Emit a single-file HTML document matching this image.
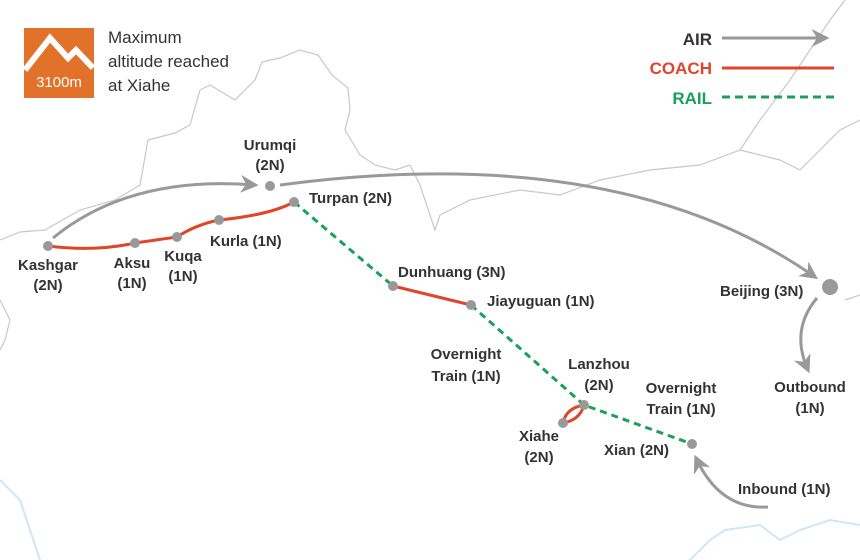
<!DOCTYPE html>
<html><head><meta charset="utf-8"><style>
html,body{margin:0;padding:0;background:#fff}
svg{display:block}
text{font-family:"Liberation Sans",sans-serif;font-weight:bold;font-size:15px;fill:#333}
</style></head><body>
<svg width="860" height="560" viewBox="0 0 860 560" xmlns="http://www.w3.org/2000/svg">
<defs>
<marker id="ah" viewBox="0 0 10 10" refX="8" refY="5" markerWidth="6" markerHeight="6" orient="auto"><path d="M0,0 L10,5 L0,10 L3,5z" fill="#999"/></marker>
</defs>
<g fill="none" stroke="#c8c8c8" stroke-width="1.2">
<path d="M0,240 L20,232 L45,230 L80,210 L115,200 L140,185 L148,140 L175,133 L190,125 L200,90 L210,85 L235,100 L255,80 L262,62 L280,58 L300,50 L318,55 L332,75 L348,88 L350,110 L345,130 L360,155 L375,165 L395,170 L410,165 L420,185 L435,230 L440,215 L470,200 L520,190 L560,195 L600,180 L650,170 L700,165 L740,150 L760,120 L790,80 L810,50 L830,20 L845,0"/>
<path d="M740,150 L780,160 L800,170 L820,150 L840,130 L860,120"/>
<path d="M0,300 L10,320 L5,340 L0,350"/>
<path d="M845,300 L860,295"/>
</g>
<g fill="none" stroke="#cfe6f5" stroke-width="2">
<path d="M0,480 L20,500 L30,530 L40,560"/>
<path d="M690,560 L710,540 L725,530 L760,525 L780,540 L800,530 L830,520 L860,525"/>
</g>
<rect x="24" y="28" width="70" height="70" fill="#e2722a"/>
<path d="M25,70 L50,38 L68,58 L76,50 L93,68" fill="none" stroke="#fff" stroke-width="6"/>
<text x="59" y="87" text-anchor="middle" style="fill:#fff;font-weight:normal;font-size:15px">3100m</text>
<text x="108" y="43" style="font-weight:normal;font-size:17px;fill:#333">Maximum</text>
<text x="108" y="67" style="font-weight:normal;font-size:17px;fill:#333">altitude reached</text>
<text x="108" y="91" style="font-weight:normal;font-size:17px;fill:#333">at Xiahe</text>
<text x="712" y="45" text-anchor="end" style="font-size:17px;fill:#333">AIR</text>
<text x="712" y="74" text-anchor="end" style="font-size:17px;fill:#e0452a">COACH</text>
<text x="712" y="104" text-anchor="end" style="font-size:17px;fill:#1aa05a">RAIL</text>
<line x1="722" y1="38" x2="826" y2="38" stroke="#999" stroke-width="3" marker-end="url(#ah)"/>
<line x1="722" y1="68" x2="834" y2="68" stroke="#e0452a" stroke-width="3"/>
<line x1="722" y1="97" x2="834" y2="97" stroke="#1aa05a" stroke-width="3" stroke-dasharray="8,5"/>
<g fill="none" stroke="#999" stroke-width="3">
<path d="M53,238 Q130,175 255,185" marker-end="url(#ah)"/>
<path d="M280,185 Q620,140 815,277" marker-end="url(#ah)"/>
<path d="M817,298 Q790,330 808,370" marker-end="url(#ah)"/>
<path d="M768,507 Q720,510 696,458" marker-end="url(#ah)"/>
</g>
<g fill="none" stroke="#e0452a" stroke-width="3">
<path d="M48,246 Q95,252 135,243 L177,237 Q195,225 219,220 Q270,215 294,202"/>
<path d="M393,286 L471,305"/>
<path d="M563,423 Q566,408 584,405 Q580,420 563,423"/>
</g>
<g fill="none" stroke="#1aa05a" stroke-width="3" stroke-dasharray="7,5">
<path d="M294,202 L393,286"/>
<path d="M471,305 L584,405 L692,444"/>
</g>
<g fill="#999">
<circle cx="48" cy="246" r="5"/><circle cx="135" cy="243" r="5"/><circle cx="177" cy="237" r="5"/>
<circle cx="219" cy="220" r="5"/><circle cx="294" cy="202" r="5"/><circle cx="270" cy="186" r="5"/>
<circle cx="393" cy="286" r="5"/><circle cx="471" cy="305" r="5"/><circle cx="584" cy="405" r="5"/>
<circle cx="563" cy="423" r="5"/><circle cx="692" cy="444" r="5"/><circle cx="830" cy="287" r="8"/>
</g>
<text x="270" y="150" text-anchor="middle">Urumqi</text>
<text x="270" y="170" text-anchor="middle">(2N)</text>
<text x="309" y="203">Turpan (2N)</text>
<text x="210" y="246">Kurla (1N)</text>
<text x="183" y="261" text-anchor="middle">Kuqa</text>
<text x="183" y="281" text-anchor="middle">(1N)</text>
<text x="132" y="268" text-anchor="middle">Aksu</text>
<text x="132" y="288" text-anchor="middle">(1N)</text>
<text x="48" y="270" text-anchor="middle">Kashgar</text>
<text x="48" y="290" text-anchor="middle">(2N)</text>
<text x="398" y="277">Dunhuang (3N)</text>
<text x="487" y="306">Jiayuguan (1N)</text>
<text x="466" y="359" text-anchor="middle">Overnight</text>
<text x="466" y="381" text-anchor="middle">Train (1N)</text>
<text x="599" y="369" text-anchor="middle">Lanzhou</text>
<text x="599" y="390" text-anchor="middle">(2N)</text>
<text x="681" y="393" text-anchor="middle">Overnight</text>
<text x="681" y="414" text-anchor="middle">Train (1N)</text>
<text x="539" y="441" text-anchor="middle">Xiahe</text>
<text x="539" y="462" text-anchor="middle">(2N)</text>
<text x="604" y="455">Xian (2N)</text>
<text x="720" y="296">Beijing (3N)</text>
<text x="810" y="392" text-anchor="middle">Outbound</text>
<text x="810" y="413" text-anchor="middle">(1N)</text>
<text x="738" y="494">Inbound (1N)</text>
</svg>
</body></html>
